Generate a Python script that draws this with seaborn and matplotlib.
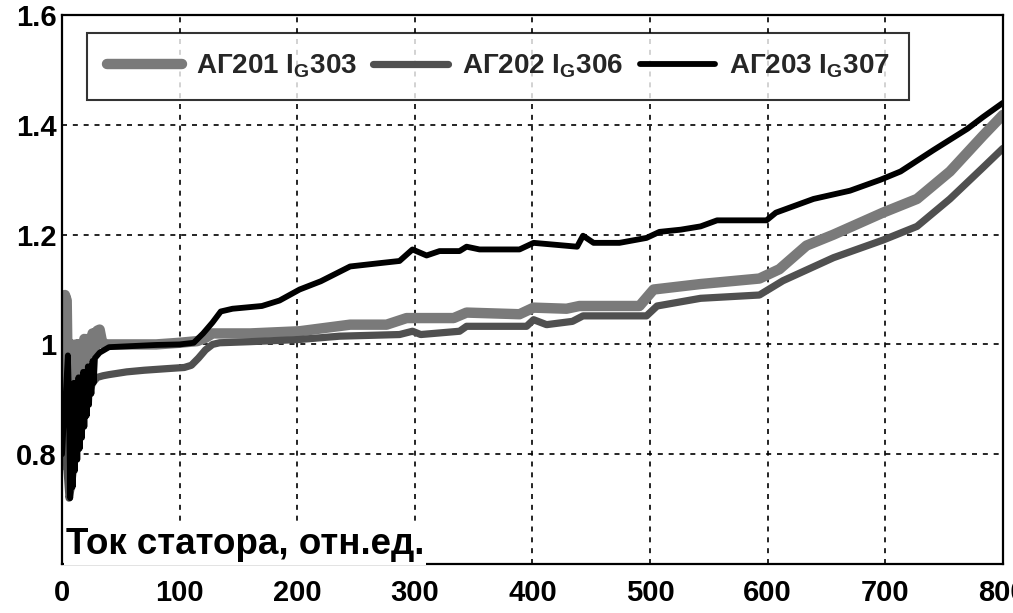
import matplotlib
matplotlib.use("Agg")
import matplotlib.pyplot as plt
import seaborn as sns

# ---- data ----
x_ag201 = [0, 1.5, 2.5, 4, 5, 6, 7, 8, 9, 10, 11, 12, 13, 14, 15, 16, 18, 19, 21, 22, 24, 26, 28, 30, 32, 34, 36, 40, 60, 80, 100, 115, 122, 128, 135,
           160, 202, 245, 276, 293, 333, 344, 389, 401, 429, 440, 491, 503, 543, 593, 610, 633, 656, 698, 727, 755, 783, 800]
y_ag201 = [0.78, 0.90, 1.09, 1.08, 0.92, 0.99, 0.91, 1.00, 0.92, 0.99, 0.92, 1.00, 0.93, 1.00, 0.94, 1.00, 0.95, 1.01, 0.96, 1.01, 0.97, 1.02, 0.99, 1.025, 1.027, 1.005, 1.0, 1.0, 1.0, 1.0, 1.003, 1.006, 1.012, 1.02, 1.02,
           1.02, 1.024, 1.036, 1.036, 1.048, 1.048, 1.058, 1.055, 1.067, 1.065, 1.07, 1.07, 1.100, 1.110, 1.12, 1.137, 1.18, 1.20, 1.24, 1.265, 1.315, 1.38, 1.418]

x_ag202 = [0, 2, 4, 6, 8, 10, 12, 14, 16, 18, 20, 23, 26, 30, 35, 40, 55, 70, 90, 104, 110, 116, 122, 128, 134,
           160, 202, 236, 287, 298, 305, 338, 344, 395, 401, 412, 434, 443, 497, 506, 543, 593, 613, 656, 698, 727, 755, 783, 800]
y_ag202 = [0.90, 0.80, 0.78, 0.72, 0.74, 0.78, 0.81, 0.84, 0.86, 0.88, 0.89, 0.91, 0.93, 0.94, 0.943, 0.945, 0.95, 0.953, 0.956, 0.958, 0.962, 0.975, 0.99, 1.0, 1.003,
           1.005, 1.009, 1.015, 1.018, 1.024, 1.018, 1.024, 1.033, 1.033, 1.045, 1.036, 1.042, 1.052, 1.052, 1.07, 1.084, 1.09, 1.116, 1.158, 1.19, 1.215, 1.265, 1.322, 1.357]

x_ag203 = [0, 1, 3, 5, 6, 7, 8, 9, 10, 11, 12, 13, 14, 15, 16, 17, 18, 19, 20, 21, 22, 23, 24, 25, 26, 27, 28, 30, 32, 40, 60, 80, 100, 112, 120, 128, 135,
           145, 170, 185, 202, 220, 245, 270, 287, 298, 310, 321, 338, 344, 355, 389, 401, 438, 443, 452, 474, 497, 508, 526,
           543, 557, 599, 607, 639, 670, 696, 713, 741, 770, 783, 800]
y_ag203 = [0.80, 0.84, 0.90, 0.98, 0.90, 0.72, 0.92, 0.74, 0.93, 0.77, 0.93, 0.79, 0.94, 0.81, 0.94, 0.83, 0.95, 0.85, 0.95, 0.87, 0.96, 0.89, 0.96, 0.91, 0.97, 0.93, 0.975, 0.98, 0.985, 0.995, 0.997, 0.999, 1.0, 1.003, 1.02, 1.04, 1.06,
           1.065, 1.07, 1.08, 1.10, 1.115, 1.142, 1.148, 1.152, 1.173, 1.162, 1.17, 1.17, 1.178, 1.173, 1.173, 1.185, 1.178, 1.198, 1.185, 1.185, 1.194, 1.205, 1.209,
           1.215, 1.226, 1.226, 1.24, 1.265, 1.28, 1.30, 1.315, 1.354, 1.393, 1.414, 1.44]

labels = [r"АГ201 I$_{\mathrm{G}}$303", r"АГ202 I$_{\mathrm{G}}$306", r"АГ203 I$_{\mathrm{G}}$307"]
x_ticks = [0, 100, 200, 300, 400, 500, 600, 700, 800]
y_ticks = [0.8, 1.0, 1.2, 1.4, 1.6]
y_tick_labels = ["0.8", "1", "1.2", "1.4", "1.6"]
x_label = "Ток статора, отн.ед."

# ---- style ----
sns.set_theme(style="white")
plt.rcParams["font.family"] = ["Liberation Sans", "DejaVu Sans"]
plt.rcParams["font.weight"] = "bold"
plt.rcParams["mathtext.fontset"] = "custom"
plt.rcParams["mathtext.rm"] = "Liberation Sans:bold"
plt.rcParams["mathtext.it"] = "Liberation Sans:bold"
plt.rcParams["mathtext.bf"] = "Liberation Sans:bold"

fig = plt.figure(figsize=(10.13, 6.13), dpi=100)
ax = fig.add_axes([0.0612, 0.0799, 0.9288, 0.8956])

sns.lineplot(x=x_ag201, y=y_ag201, ax=ax, color="#7a7a7a", lw=7.5, label=labels[0],
             sort=False, estimator=None)
sns.lineplot(x=x_ag202, y=y_ag202, ax=ax, color="#505050", lw=5.2, label=labels[1],
             sort=False, estimator=None)
sns.lineplot(x=x_ag203, y=y_ag203, ax=ax, color="black", lw=4.2, label=labels[2],
             sort=False, estimator=None)

ax.set_xlim(0, 800)
ax.set_ylim(0.6, 1.6)
ax.set_xticks(x_ticks)
ax.set_xticklabels([str(t) for t in x_ticks])
ax.set_yticks(y_ticks)
ax.set_yticklabels(y_tick_labels)
ax.tick_params(axis="both", length=0, labelsize=21, colors="black")
ax.tick_params(axis="x", pad=11)
ax.tick_params(axis="y", pad=4)
for lab in ax.get_xticklabels() + ax.get_yticklabels():
    lab.set_fontweight("bold")

ax.grid(True, color="black", linestyle=(0, (3, 3.5)), linewidth=1.2)
ax.set_axisbelow(True)
for sp in ax.spines.values():
    sp.set_color("black")
    sp.set_linewidth(1.6)
    sp.set_visible(True)

ax.set_xlabel("")
ax.set_ylabel("")
ax.text(0.004, 0.003, x_label, transform=ax.transAxes, ha="left", va="bottom",
        fontsize=26.5, fontweight="bold", color="black",
        bbox=dict(facecolor="white", edgecolor="none", pad=1.5), zorder=5)

leg = ax.legend(loc="upper left", bbox_to_anchor=(0.027, 0.967), ncol=3, frameon=True,
                fancybox=False, borderaxespad=0, handlelength=2.7, columnspacing=0.6,
                handletextpad=0.5, borderpad=0.7, prop={"size": 20, "weight": "bold"})
leg.get_frame().set_edgecolor("black")
leg.get_frame().set_linewidth(1.5)
leg.set_zorder(6)

fig.savefig("out.png", dpi=100)
